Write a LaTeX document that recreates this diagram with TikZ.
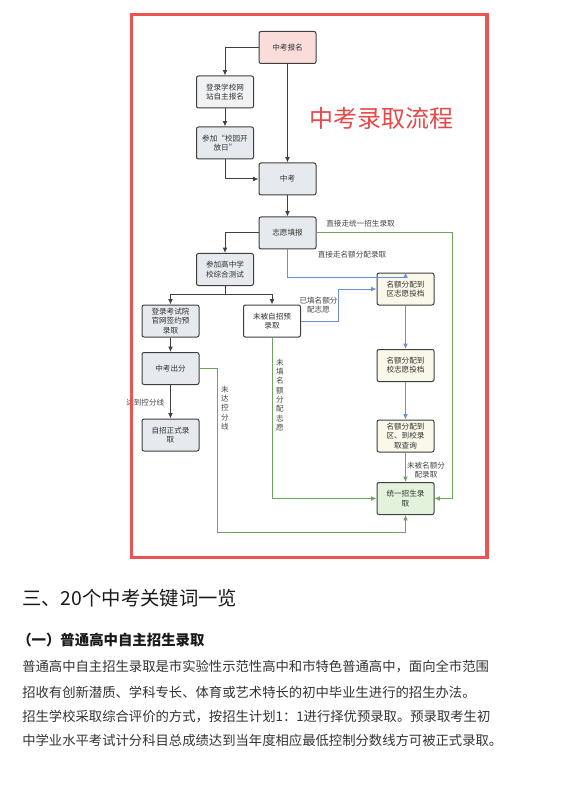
\documentclass[tikz,border=0pt]{standalone}
\usepackage{fontspec}
\usepackage{xcolor}
\usepackage{tikz}
\usetikzlibrary{arrows.meta,calc}
\newfontfamily\cjk{Noto Sans CJK SC}
\definecolor{framered}{HTML}{EC5454}
\definecolor{titlered}{HTML}{E84848}
\definecolor{boxline}{HTML}{3E3E3E}
\definecolor{grayfill}{HTML}{E6E9ED}
\definecolor{pinkfill}{HTML}{FADCDB}
\definecolor{yellowfill}{HTML}{FAF8E8}
\definecolor{greenfill}{HTML}{E3F2DB}
\definecolor{darkline}{HTML}{404040}
\definecolor{blueline}{HTML}{6B8DE3}
\definecolor{greenline}{HTML}{6DA55A}
\definecolor{labelgray}{HTML}{444444}
\definecolor{bodytext}{HTML}{333333}

\begin{document}
\begin{tikzpicture}[x=0.75pt, y=-0.75pt,
  every node/.style={font=\cjk\fontsize{5.7pt}{6.9pt}\selectfont, text=labelgray},
  box/.style={draw=boxline, line width=0.75pt, rounded corners=1.5pt, fill=grayfill, minimum width=42.75pt, minimum height=24pt, align=center, inner sep=1pt, text=bodytext},
  flow/.style={draw=darkline, line width=0.75pt, -{Latex[length=4pt,width=3.6pt]}},
  blueflow/.style={flow, draw=blueline, -{Latex[length=4pt,width=3.6pt,color=blueline]}},
  greenflow/.style={flow, draw=greenline, -{Latex[length=4pt,width=3.6pt,color=greenline]}},
  vlabel/.style={align=center, font=\cjk\fontsize{5.7pt}{7pt}\selectfont},
  paraline/.style={anchor=west, inner sep=0pt, text=bodytext, font=\cjk\fontsize{10pt}{12pt}\selectfont}]
  \useasboundingbox (0,0) rectangle (571,805);

  \node[box, fill=pinkfill] (baoming) at (287.5,47.5) {中考报名};
  \node[box, fill=grayfill!60] (denglu) at (225,92) {登录学校网\\站自主报名};
  \node[box] (kaifang) at (225,143) {参加“校园开\\放日”};
  \node[box] (zhongkao) at (287.5,179) {中考};
  \node[box] (zhiyuan) at (287.5,233) {志愿填报};
  \node[box] (ceshi) at (225,269.5) {参加高中学\\校综合测试};
  \node[box] (qianyue) at (170.5,321) {登录考试院\\官网签约预\\录取};
  \node[box, fill=white] (weibei) at (272,321) {未被自招预\\录取};
  \node[box] (chufen) at (170.5,368.5) {中考出分};
  \node[box] (zhengshi) at (170.5,435) {自招正式录\\取};
  \node[box, fill=yellowfill] (quzy) at (405.5,289) {名额分配到\\区志愿投档};
  \node[box, fill=yellowfill] (xiaozy) at (405.5,365.5) {名额分配到\\校志愿投档};
  \node[box, fill=yellowfill] (chaxun) at (405.5,436) {名额分配到\\区、到校录\\取查询};
  \node[box, fill=greenfill] (tongzhao) at (405.5,498.5) {统一招生录\\取};

  \node[text=titlered, font=\cjk\fontsize{18pt}{20pt}\selectfont] (title) at (381,118) {中考录取流程};

  \coordinate (greenturn) at (452,233);
  \coordinate (lowturn) at (217,532);

  \draw[flow] (baoming.west) -| (denglu.north);
  \draw[flow] (baoming.south) -- (zhongkao.north);
  \draw[flow] (denglu.south) -- (kaifang.north);
  \draw[flow] (kaifang.south) |- (zhongkao.west);
  \draw[flow] (zhongkao.south) -- (zhiyuan.north);
  \draw[flow] (zhiyuan.west) -| (ceshi.north);
  \draw[flow] (ceshi.south) -- ++(0,8.5) -| (qianyue.north);
  \draw[flow] (ceshi.south) -- ++(0,8.5) -| (weibei.north);
  \draw[flow] (qianyue.south) -- (chufen.north);
  \draw[flow] (chufen.south) -- (zhengshi.north);

  \draw[greenflow] (zhiyuan.east) -- (greenturn) |- (tongzhao.east);
  \draw[blueflow] (zhiyuan.south) -- ++(0,28) -| (quzy.north);
  \draw[blueflow] (weibei.east) -- ++(37,0) |- (quzy.west);
  \draw[blueflow] (quzy.south) -- (xiaozy.north);
  \draw[blueflow] (xiaozy.south) -- (chaxun.north);
  \draw[greenflow] (chaxun.south) -- (tongzhao.north);
  \draw[greenflow] (weibei.south) |- (tongzhao.west);
  \draw[greenflow] (chufen.east) -| (lowturn) -| (tongzhao.south);

  \node (lbl-tongzhao) at (360.5,224) {直接走统一招生录取};
  \node (lbl-minge) at (352,255) {直接走名额分配录取};
  \node[align=center] (lbl-yitian) at (318.5,305) {已填名额分\\配志愿};
  \node[anchor=east] (lbl-dadao) at (169,403) {达到控分线};
  \node[vlabel] (lbl-weida) at (225,408) {未\\达\\控\\分\\线};
  \node[vlabel] (lbl-weitian) at (280,395) {未\\填\\名\\额\\分\\配\\志\\愿};
  \node[align=center] (lbl-weibei) at (426,470) {未被名额分\\配录取};

  \draw[framered, line width=2.4pt] (131.5,14.5) rectangle (487,557.5);

  \node[anchor=west, inner sep=0pt, text=black!90, font=\cjk\fontsize{14.5pt}{16pt}\selectfont] (heading) at (22,598) {三、20个中考关键词一览};
  \node[anchor=west, inner sep=0pt, text=black!90, font=\cjk\bfseries\fontsize{10.8pt}{12pt}\selectfont] (subheading) at (17,640) {（一）普通高中自主招生录取};
  \node[paraline] (para1) at (22,667) {普通高中自主招生录取是市实验性示范性高中和市特色普通高中，面向全市范围};
  \node[paraline] (para2) at (22,692) {招收有创新潜质、学科专长、体育或艺术特长的初中毕业生进行的招生办法。};
  \node[paraline] (para3) at (22,717) {招生学校采取综合评价的方式，按招生计划1：1进行择优预录取。预录取考生初};
  \node[paraline] (para4) at (22,740) {中学业水平考试计分科目总成绩达到当年度相应最低控制分数线方可被正式录取。};
\end{tikzpicture}
\end{document}
